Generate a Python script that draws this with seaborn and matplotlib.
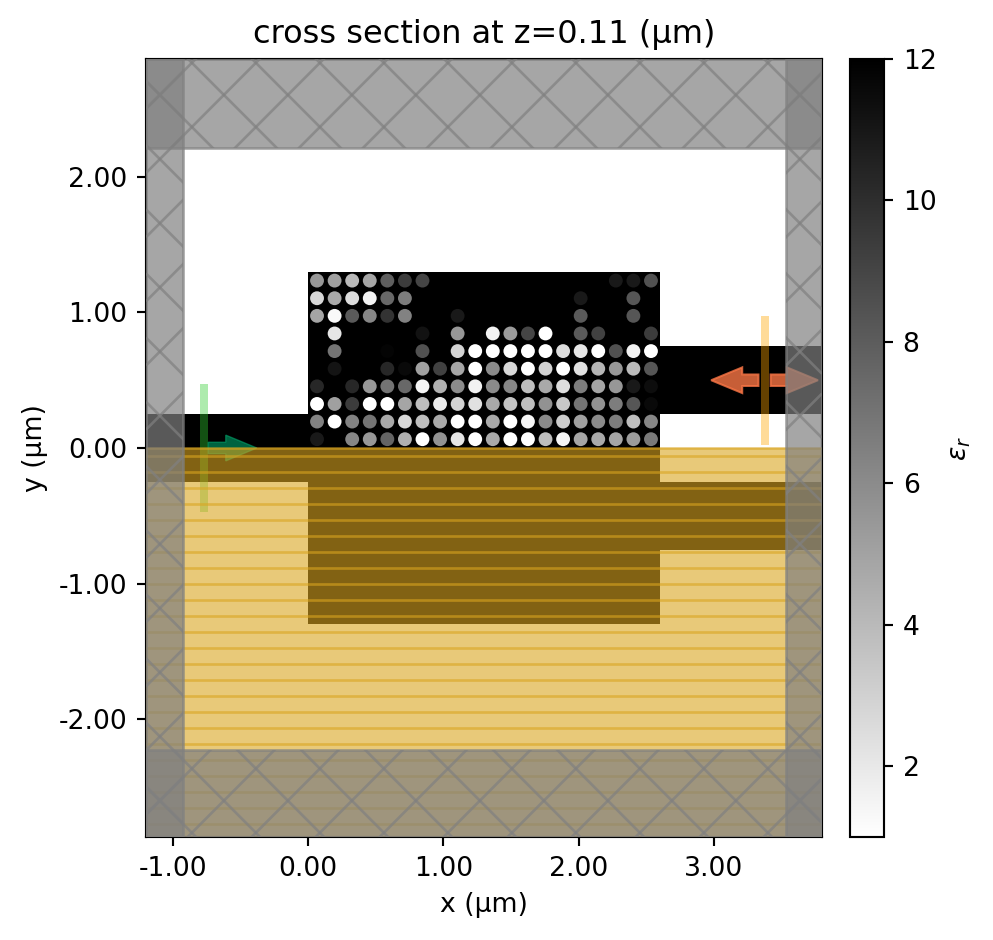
import numpy as np
import pandas as pd
import seaborn as sns
import matplotlib.pyplot as plt
from matplotlib.cm import ScalarMappable
from matplotlib.colors import Normalize
from matplotlib.patches import Rectangle

sns.set_style("ticks", {"axes.edgecolor": "black", "xtick.color": "black", "ytick.color": "black",
                        "text.color": "black", "axes.labelcolor": "black"})
plt.rcParams["font.family"] = ["DejaVu Sans"]
plt.rcParams["axes.linewidth"] = 0.8

# permittivity of each hole in the design region, top row first
row_0 = [5.5, 5.1, 4.0, 4.9, 7.9, 9.4, 9.0, 12, 12, 12, 12, 12, 12, 12, 12, 12, 12, 10.9, 10.9, 8.5]
row_1 = [2.7, 4.7, 2.5, 1.6, 7.5, 6.6, 12, 12, 12, 12, 12, 12, 12, 12, 12, 10.9, 12, 12, 8.3, 12]
row_2 = [4.9, 1.3, 8.1, 6.2, 9.8, 6.4, 12, 12, 10.9, 12, 12, 12, 12, 12, 12, 8.1, 12, 12, 8.3, 12]
row_3 = [12, 2.1, 12, 12, 12, 12, 11.2, 12, 5.5, 12, 1.6, 5.3, 9.0, 1.0, 12, 8.1, 9.2, 12, 12, 9.4]
row_4 = [12, 7.0, 12, 12, 11.8, 12, 8.5, 12, 2.9, 1.0, 1.0, 1.0, 1.0, 1.0, 2.5, 2.1, 1.0, 8.5, 1.6, 1.0]
row_5 = [12, 11.1, 12, 12, 10.3, 11.6, 5.1, 9.2, 4.9, 1.0, 6.0, 2.7, 1.0, 2.9, 1.0, 2.3, 4.2, 5.5, 4.0, 8.3]
row_6 = [10.3, 12, 10.3, 5.5, 7.0, 7.5, 1.4, 4.4, 6.0, 1.6, 6.0, 6.2, 3.8, 4.7, 2.5, 6.6, 4.9, 5.5, 10.9, 11.4]
row_7 = [1.0, 5.1, 9.4, 1.0, 1.0, 4.9, 3.8, 1.9, 2.9, 2.3, 4.7, 3.6, 3.8, 5.7, 3.4, 7.0, 5.7, 6.6, 8.3, 11.6]
row_8 = [6.4, 1.0, 6.4, 7.0, 4.7, 2.7, 3.8, 4.7, 1.0, 1.0, 4.7, 1.0, 1.4, 6.0, 3.2, 5.1, 6.0, 6.6, 3.8, 6.2]
row_9 = [10.9, 12, 6.2, 5.5, 7.7, 4.4, 1.0, 5.7, 2.1, 1.0, 4.7, 1.0, 1.0, 3.8, 1.4, 4.9, 4.7, 4.9, 5.3, 6.8]
hole_rows = [row_0, row_1, row_2, row_3, row_4, row_5, row_6, row_7, row_8, row_9]

hole_pitch = 0.13
design_x = (0.0, 2.6)
design_y = (-1.3, 1.3)
wg_in_y = (-0.25, 0.25)
wg_out_y = (0.25, 0.75)
x_ticks = [-1, 0, 1, 2, 3]
y_ticks = [-2, -1, 0, 1, 2]
cbar_ticks = [2, 4, 6, 8, 10, 12]
eps_min, eps_max = 1, 12

x_lim = (-1.2, 3.8)
y_lim = (-2.87, 2.87)
W, H = 993, 940
DPI = 192

# table of hole centres
records = []
for r, row in enumerate(hole_rows):
    for c, eps in enumerate(row):
        records.append({"x": (c + 0.5) * hole_pitch, "y": design_y[1] - (r + 0.5) * hole_pitch, "eps": eps})
holes = pd.DataFrame(records)

fig = plt.figure(figsize=(W / DPI, H / DPI), dpi=DPI)
ax = fig.add_axes([146 / W, 1 - 837 / H, 676 / W, 778 / H])
cax = fig.add_axes([850 / W, 1 - 837 / H, 34 / W, 778 / H])

# dielectric structures, mirrored about y=0 on the output side
black = dict(facecolor="black", edgecolor="none", zorder=1)
ax.add_patch(Rectangle((design_x[0], design_y[0]), design_x[1] - design_x[0], design_y[1] - design_y[0], **black))
ax.add_patch(Rectangle((x_lim[0], wg_in_y[0]), -x_lim[0], wg_in_y[1] - wg_in_y[0], **black))
ax.add_patch(Rectangle((design_x[1], wg_out_y[0]), x_lim[1] - design_x[1], wg_out_y[1] - wg_out_y[0], **black))
ax.add_patch(Rectangle((design_x[1], -wg_out_y[1]), x_lim[1] - design_x[1], wg_out_y[1] - wg_out_y[0], **black))

sns.scatterplot(data=holes, x="x", y="y", hue="eps", palette="gist_yarg", hue_norm=(eps_min, eps_max),
                s=27, linewidth=0, legend=False, ax=ax, zorder=2)

# source and monitor sit under the symmetry shading
ax.plot([-0.77, -0.77], [-0.47, 0.47], color="limegreen", alpha=0.4, lw=3, zorder=2.5, solid_capstyle="butt")
ax.plot([3.376, 3.376], [0.02, 0.974], color="orange", alpha=0.4, lw=3, zorder=2.5, solid_capstyle="butt")

arrow_opts = dict(width=0.085, head_width=0.19, head_length=0.23, length_includes_head=True, zorder=2.5)
ax.arrow(-0.74, 0, 0.36, 0, facecolor="#00a66c", edgecolor="#00a66c", alpha=0.6, lw=0.5, **arrow_opts)
ax.arrow(3.33, 0.5, -0.35, 0, facecolor="#fa7646", edgecolor="#fa7646", alpha=0.8, lw=0.75, **arrow_opts)
ax.arrow(3.42, 0.5, 0.35, 0, facecolor="#fa7646", edgecolor="#fa7646", alpha=0.8, lw=0.75, **arrow_opts)

# symmetry region
sym = Rectangle((x_lim[0], y_lim[0]), x_lim[1] - x_lim[0], -y_lim[0], facecolor="goldenrod",
                edgecolor="none", alpha=0.6, zorder=3)
ax.add_patch(sym)
ax.plot(x_lim, [0, 0], color="goldenrod", alpha=0.6, lw=1, zorder=3.1, solid_capstyle="butt")
for yy in np.arange(-0.059, y_lim[0], -0.118):
    ax.plot(x_lim, [yy, yy], color="goldenrod", alpha=0.6, lw=1, zorder=3.1, solid_capstyle="butt")

# absorbing layers with a crossed hatch
pml_boxes = [
    (x_lim[0], y_lim[0], 0.275, y_lim[1] - y_lim[0]),
    (3.535, y_lim[0], x_lim[1] - 3.535, y_lim[1] - y_lim[0]),
    (x_lim[0], 2.213, x_lim[1] - x_lim[0], y_lim[1] - 2.213),
    (x_lim[0], y_lim[0], x_lim[1] - x_lim[0], 0.64),
]
hatch_step = 64 / 135.2
for bx, by, bw, bh in pml_boxes:
    box = Rectangle((bx, by), bw, bh, facecolor="gray", edgecolor="gray", lw=1, alpha=0.7, zorder=5)
    ax.add_patch(box)
    for k in range(-20, 21):
        xs = np.array(x_lim)
        for line_y in (3.229 + k * hatch_step + xs, 1.981 + k * hatch_step - xs):
            ln, = ax.plot(xs, line_y, color="gray", alpha=0.7, lw=1, zorder=5.1, solid_capstyle="butt")
            ln.set_clip_path(box)

ax.set_xlim(*x_lim)
ax.set_ylim(*y_lim)
ax.set_xticks(x_ticks, [f"{t:.2f}" for t in x_ticks])
ax.set_yticks(y_ticks, [f"{t:.2f}" for t in y_ticks])
ax.tick_params(labelsize=10, width=0.8, length=3.5)
ax.set_xlabel("x (µm)", fontsize=10)
ax.set_ylabel("y (µm)", fontsize=10)
ax.set_title("cross section at z=0.11 (µm)", fontsize=12)

sm = ScalarMappable(norm=Normalize(eps_min, eps_max), cmap="gist_yarg")
cbar = fig.colorbar(sm, cax=cax)
cbar.set_ticks(cbar_ticks)
cbar.ax.tick_params(labelsize=10, width=0.8, length=3.5)
cbar.outline.set_linewidth(0.8)
cbar.set_label(r"$\epsilon_r$", fontsize=10)

fig.savefig("out.png", dpi=DPI)
